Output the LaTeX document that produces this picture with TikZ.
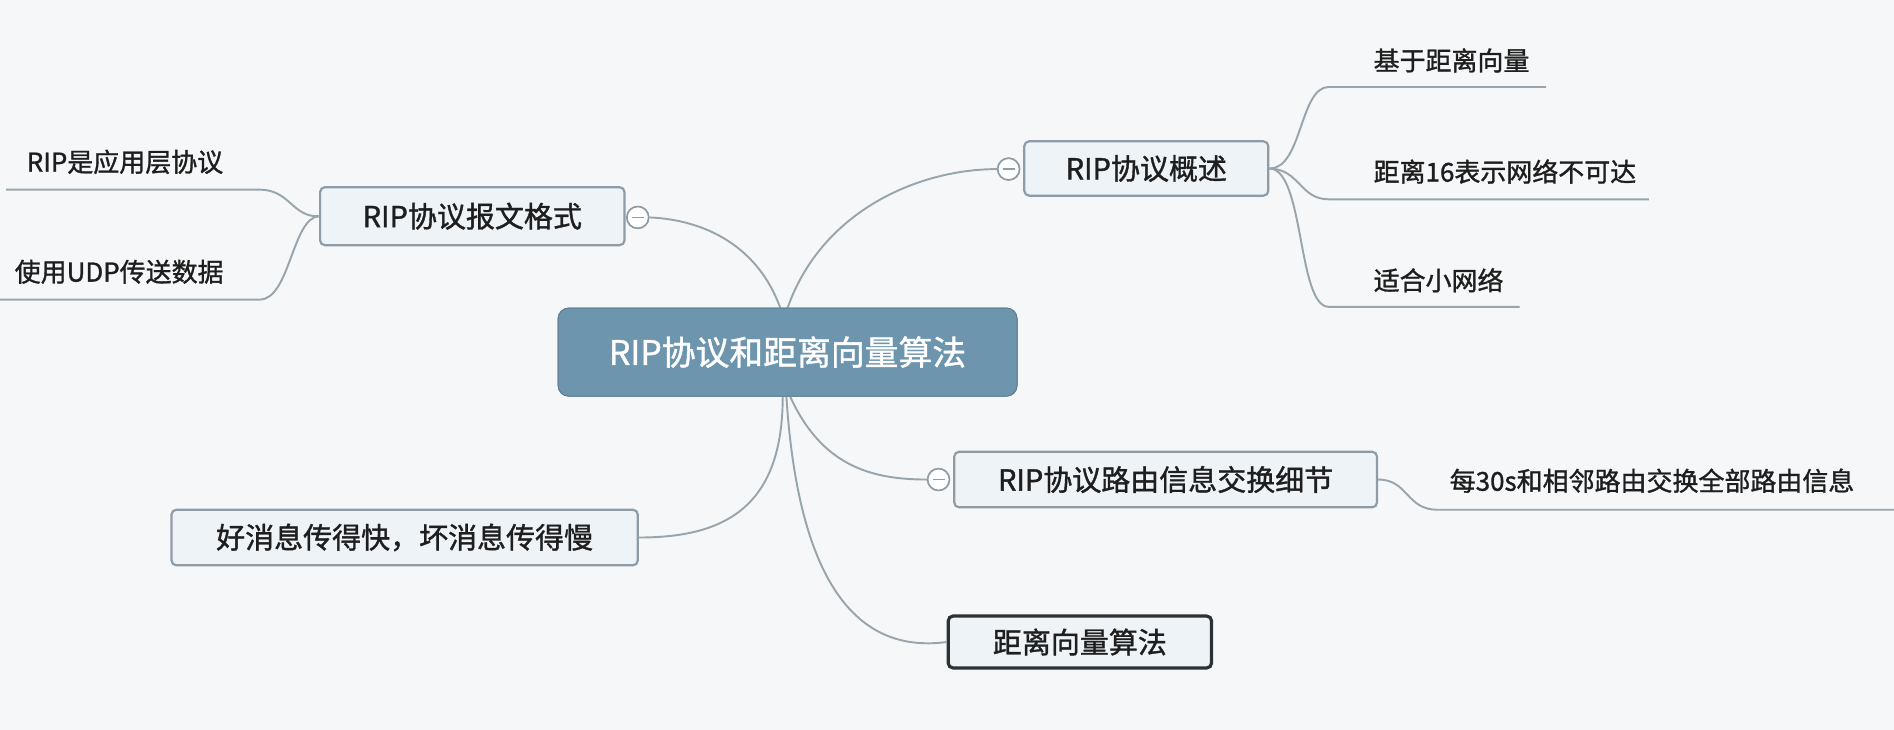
\documentclass[tikz,border=0pt]{standalone}
\usepackage{fontspec}
\setmainfont{Noto Sans CJK SC}[AutoFakeBold=1.2]
\definecolor{bg}{HTML}{F6F7F8}
\definecolor{centralfill}{HTML}{6E95AE}
\definecolor{boxfill}{HTML}{EEF3F8}
\definecolor{boxborder}{HTML}{8E9CA8}
\definecolor{linkgray}{HTML}{99A5AD}
\definecolor{darkborder}{HTML}{2A3236}
\definecolor{txt}{HTML}{1E1E1E}
\tikzset{
  central/.style={draw=centralfill!85!black, fill=centralfill, rounded corners=9pt, line width=0.8pt,
    text=white, font=\fontsize{28}{32}\selectfont\bfseries, minimum width=380pt, minimum height=73pt, inner sep=0pt},
  branch/.style={draw=boxborder, fill=boxfill, rounded corners=4pt, line width=1.8pt,
    text=txt, font=\fontsize{24}{28}\selectfont\bfseries, inner sep=0pt},
  leaf/.style={text=txt, font=\fontsize{21.5}{25}\selectfont\bfseries, inner sep=0pt, anchor=west},
  link/.style={draw=linkgray, line width=1.6pt},
  collapse/.style={circle, draw=boxborder, fill=white, line width=1.3pt, minimum size=18pt, inner sep=0pt,
    path picture={\draw[boxborder, line width=1.3pt] ([xshift=-5pt]path picture bounding box.center) -- ([xshift=5pt]path picture bounding box.center);}}
}
\begin{document}
\begin{tikzpicture}[x=1pt,y=-1pt]
\useasboundingbox[fill=bg] (0,0) rectangle (1568,604);

% central
\node[central] (root) at (652,291.5) {RIP协议和距离向量算法};

% branches
\node[branch, minimum width=252pt, minimum height=48pt] (b1) at (391,179) {RIP协议报文格式};
\node[branch, minimum width=202pt, minimum height=45pt] (b2) at (949,139.5) {RIP协议概述};
\node[branch, minimum width=350pt, minimum height=46pt] (b3) at (965,397) {RIP协议路由信息交换细节};
\node[branch, minimum width=386pt, minimum height=46pt] (b4) at (335,445) {好消息传得快，坏消息传得慢};
\node[branch, draw=darkborder, line width=2.6pt, minimum width=218pt, minimum height=43pt] (b5) at (894,531.5) {距离向量算法};

% collapse markers
\node[collapse] (c1) at (528,180) {};
\node[collapse] (c2) at (835,140) {};
\node[collapse] (c3) at (777,397) {};

% root links
\coordinate (rt1) at (646,255);
\coordinate (rt2) at (652,255);
\coordinate (rb1) at (648,328);
\coordinate (rb2) at (654,328);
\coordinate (rb3) at (651,328);
\draw[link] (rt1) .. controls (628,205) and (585,182) .. (c1.east);
\draw[link] (rt2) .. controls (680,175) and (760,140) .. (c2.west);
\draw[link] (rb2) .. controls (680,385) and (720,397) .. (c3.west);
\draw[link] (rb1) .. controls (648,420) and (600,445) .. (b4.east);
\draw[link] (rb3) .. controls (662,500) and (720,540) .. (b5.west);

% leaves of b1
\node[leaf] (l11) at (22,134) {RIP是应用层协议};
\node[leaf] (l12) at (12,225) {使用UDP传送数据};
\coordinate (l11s) at (5,157);
\coordinate (l11e) at (215,157);
\coordinate (l12s) at (0,248);
\coordinate (l12e) at (215,248);
\draw[link] (b1.west) .. controls (242,180) and (240,157) .. (l11e) -- (l11s);
\draw[link] (b1.west) .. controls (242,180) and (240,248) .. (l12e) -- (l12s);

% leaves of b2
\node[leaf] (l21) at (1137,50) {基于距离向量};
\node[leaf] (l22) at (1137,142) {距离16表示网络不可达};
\node[leaf] (l23) at (1137,232) {适合小网络};
\coordinate (l21s) at (1100,72);
\coordinate (l21e) at (1280,72);
\coordinate (l22s) at (1100,165);
\coordinate (l22e) at (1365,165);
\coordinate (l23s) at (1100,254);
\coordinate (l23e) at (1258,254);
\draw[link] (b2.east) .. controls (1078,140) and (1076,72) .. (l21s) -- (l21e);
\draw[link] (b2.east) .. controls (1076,140) and (1076,165) .. (l22s) -- (l22e);
\draw[link] (b2.east) .. controls (1080,140) and (1074,254) .. (l23s) -- (l23e);

% leaf of b3
\node[leaf] (l31) at (1200,398) {每30s和相邻路由交换全部路由信息};
\coordinate (l31s) at (1190,422);
\coordinate (l31e) at (1568,422);
\draw[link] (b3.east) .. controls (1166,397) and (1164,422) .. (l31s) -- (l31e);

% redraw nodes on top of links
\node[central] at (root) {RIP协议和距离向量算法};
\node[collapse] at (c1) {};
\node[collapse] at (c2) {};
\node[collapse] at (c3) {};
\end{tikzpicture}
\end{document}
